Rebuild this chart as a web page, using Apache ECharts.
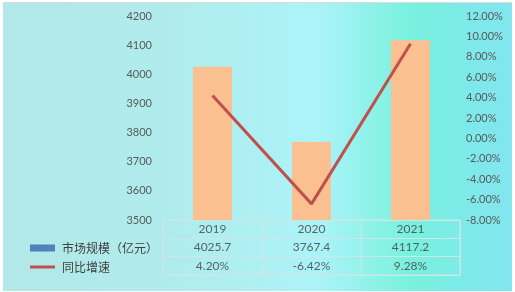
<!DOCTYPE html>
<html>
<head>
<meta charset="utf-8">
<script src="https://cdn.jsdelivr.net/npm/echarts@6/dist/echarts.min.js"></script>
<style>
html,body{margin:0;padding:0;background:#fff;}
#bg{position:absolute;left:3px;top:2px;width:509px;height:288px;border-top:1px solid #d8dcdc;
background:linear-gradient(to right,#b2e8e7 0%,#b0eced 35%,#abf3f8 62%,#79f1de 80%,#7deae8 90%,#82e5ef 100%);}
#chart{position:absolute;left:0;top:0;width:515px;height:292px;}
</style>
</head>
<body>
<div id="bg"></div>
<div id="chart"></div>
<script>
const categories = ['2019', '2020', '2021'];
const marketSize = [4025.7, 3767.4, 4117.2];
const growthRate = [4.20, -6.42, 9.28];
const leftTicks = {min: 3500, max: 4200, interval: 100};
const rightTicks = {min: -8, max: 12, interval: 2};
const tableRows = ['year', 'size', 'rate'];
const seriesNames = ['市场规模（亿元）', '同比增速'];

const chart = echarts.init(document.getElementById('chart'), null, {renderer: 'canvas'});
const font = 'Lato, "Noto Sans CJK SC", sans-serif';
const cjkFont = '"Noto Sans CJK SC", sans-serif';
const lineCol = '#cde6e6';

const tableData = [];
categories.forEach((c, i) => {
  tableData.push([c, 'year', c]);
  tableData.push([c, 'size', marketSize[i].toFixed(1)]);
  tableData.push([c, 'rate', growthRate[i].toFixed(2) + '%']);
});

chart.setOption({
  backgroundColor: 'transparent',
  animation: false,
  grid: [
    {left: 163, right: 55, top: 16, bottom: 72},
    {left: 163, right: 55, top: 220, height: 55, show: true, borderColor: lineCol, borderWidth: 1}
  ],
  legend: [
    {left: 30, top: 242, padding: 0, icon: 'rect', itemWidth: 25, itemHeight: 7, itemGap: 0,
     textStyle: {fontFamily: cjkFont, fontSize: 12, color: '#404040', padding: [0, 0, 0, 2]},
     data: [{name: seriesNames[0], itemStyle: {color: '#4f81bd'}}]},
    {left: 30, top: 261, padding: 0, icon: 'rect', itemWidth: 25, itemHeight: 3, itemGap: 0,
     textStyle: {fontFamily: cjkFont, fontSize: 12, color: '#404040', padding: [0, 0, 0, 2]},
     data: [{name: seriesNames[1], itemStyle: {color: '#c0504d'}}]}
  ],
  xAxis: [
    {type: 'category', data: categories, gridIndex: 0,
     axisLine: {show: false}, axisTick: {show: false}, axisLabel: {show: false}},
    {type: 'category', data: categories, gridIndex: 1,
     axisLine: {show: false}, axisTick: {show: false}, axisLabel: {show: false},
     splitLine: {show: true, lineStyle: {color: lineCol, width: 1}}}
  ],
  yAxis: [
    {type: 'value', gridIndex: 0, min: leftTicks.min, max: leftTicks.max, interval: leftTicks.interval,
     axisLine: {show: false}, axisTick: {show: false}, splitLine: {show: false},
     axisLabel: {color: '#595959', fontFamily: font, fontSize: 11, margin: 11, formatter: v => String(v)}},
    {type: 'value', gridIndex: 0, position: 'right', min: rightTicks.min, max: rightTicks.max, interval: rightTicks.interval,
     axisLine: {show: false}, axisTick: {show: false}, splitLine: {show: false},
     axisLabel: {color: '#595959', fontFamily: font, fontSize: 11, margin: 6,
       formatter: v => v.toFixed(2) + '%'}},
    {type: 'category', gridIndex: 1, data: tableRows, inverse: true,
     axisLine: {show: false}, axisTick: {show: false}, axisLabel: {show: false},
     splitLine: {show: true, interval: 0, lineStyle: {color: lineCol, width: 1}}}
  ],
  series: [
    {name: seriesNames[0], type: 'bar', xAxisIndex: 0, yAxisIndex: 0, data: marketSize,
     barWidth: 39, itemStyle: {color: '#fac090'}},
    {name: seriesNames[1], type: 'line', xAxisIndex: 0, yAxisIndex: 1, data: growthRate,
     symbol: 'none', lineStyle: {color: '#c0504d', width: 3}, itemStyle: {color: '#c0504d'}},
    {name: 'table', type: 'scatter', xAxisIndex: 1, yAxisIndex: 2, data: tableData,
     symbolSize: 1, itemStyle: {color: 'rgba(0,0,0,0)'}, silent: true,
     label: {show: true, position: 'inside', formatter: p => p.data[2],
       color: '#404040', fontFamily: font, fontSize: 12}}
  ]
});
</script>
</body>
</html>
